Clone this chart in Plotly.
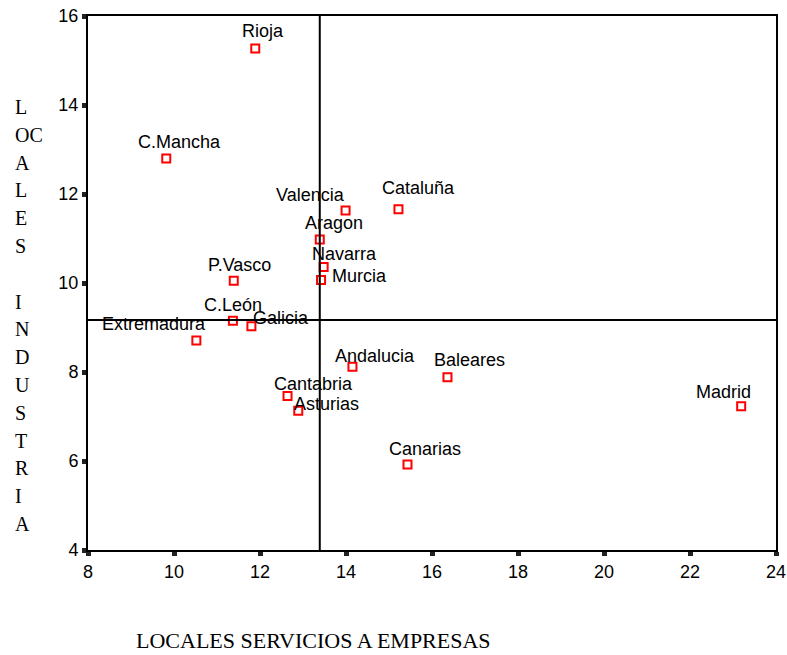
import plotly.graph_objects as go

# ---- data ----
regions = ["Rioja", "C.Mancha", "Valencia", "Cataluña", "Aragon", "Navarra", "Murcia",
           "P.Vasco", "C.León", "Galicia", "Extremadura", "Andalucia", "Cantabria",
           "Asturias", "Canarias", "Baleares", "Madrid"]
servicios = [11.89, 9.82, 13.99, 15.22, 13.39, 13.48, 13.42,
             11.39, 11.37, 11.80, 10.52, 14.15, 12.64,
             12.89, 15.43, 16.36, 23.19]
industria = [15.27, 12.80, 11.63, 11.66, 10.98, 10.36, 10.07,
             10.05, 9.15, 9.03, 8.71, 8.12, 7.46,
             7.13, 5.92, 7.88, 7.23]
mean_x = 13.39
mean_y = 9.17
x_ticks = [8, 10, 12, 14, 16, 18, 20, 22, 24]
y_ticks = [4, 6, 8, 10, 12, 14, 16]
y_title_lines = ["L", "OC", "A", "L", "E", "S", "", "I", "N", "D", "U", "S", "T", "R", "I", "A"]
x_title = "LOCALES SERVICIOS A EMPRESAS"

# ---- label placement (pixel offsets of label centre from marker) ----
label_dx = [8, 13, -35, 20, 14, 21, 38, 6, 0, 30, -42, 23, 26, 28, 18, 22, -18]
label_dy = [17, 16, 15, 21, 16, 13, 4, 15.5, 15.5, 8, 16, 11, 12, 7, 15.5, 17, 14]

W, H = 787, 655
ML, MR, MT, MB = 88, 11, 16, 105
plot_w = W - ML - MR
plot_h = H - MT - MB

fig = go.Figure()
fig.add_trace(go.Scatter(
    x=servicios, y=industria, mode="markers",
    marker=dict(symbol="square-open", size=8, color="#ff0000",
                line=dict(width=2, color="#ff0000")),
    hoverinfo="text", text=regions, showlegend=False,
))

annotations = []
for name, xv, yv, dx, dy in zip(regions, servicios, industria, label_dx, label_dy):
    annotations.append(dict(
        x=xv, y=yv, xref="x", yref="y", text=name, showarrow=False,
        xshift=dx, yshift=dy, xanchor="center", yanchor="middle",
        font=dict(family="Liberation Sans, Arial", size=18, color="#000000"),
    ))

# vertical stacked y-axis title
line_step = 27.8
first_center = 107
for i, t in enumerate(y_title_lines):
    if not t:
        continue
    py = first_center + i * line_step
    annotations.append(dict(
        x=(13 - ML) / plot_w, y=1 - (py - MT) / plot_h, xref="paper", yref="paper",
        text=t, showarrow=False, xanchor="left", yanchor="middle",
        font=dict(family="Liberation Serif, Times New Roman", size=20, color="#000000"),
    ))

annotations.append(dict(
    x=(313 - ML) / plot_w, y=-MB / plot_h, xref="paper", yref="paper",
    text=x_title, showarrow=False, xanchor="center", yanchor="bottom",
    font=dict(family="Liberation Serif, Times New Roman", size=22, color="#000000"),
))

fig.add_shape(type="line", xref="x", yref="paper", x0=mean_x, x1=mean_x, y0=0, y1=1,
              line=dict(color="#000000", width=2))
fig.add_shape(type="line", xref="paper", yref="y", x0=0, x1=1, y0=mean_y, y1=mean_y,
              line=dict(color="#000000", width=2))

axis_common = dict(
    showgrid=False, zeroline=False, showline=True, mirror=True,
    linecolor="#000000", linewidth=2, automargin=False,
    ticks="outside", ticklen=4, tickwidth=5, tickcolor="#222222",
    tickfont=dict(family="Liberation Sans, Arial", size=18, color="#000000"),
)

fig.update_layout(
    width=W, height=H,
    margin=dict(l=ML, r=MR, t=MT, b=MB),
    paper_bgcolor="white", plot_bgcolor="white",
    xaxis=dict(range=[8, 24], tickvals=x_ticks, ticktext=[str(v) for v in x_ticks], **axis_common),
    yaxis=dict(range=[4, 16], tickvals=y_ticks, ticktext=[str(v) for v in y_ticks], **axis_common),
    annotations=annotations,
)

fig.write_html(
    "out.html",
    config={"displayModeBar": False},
    post_script="document.body.style.margin='0';document.body.style.overflow='hidden';",
)
